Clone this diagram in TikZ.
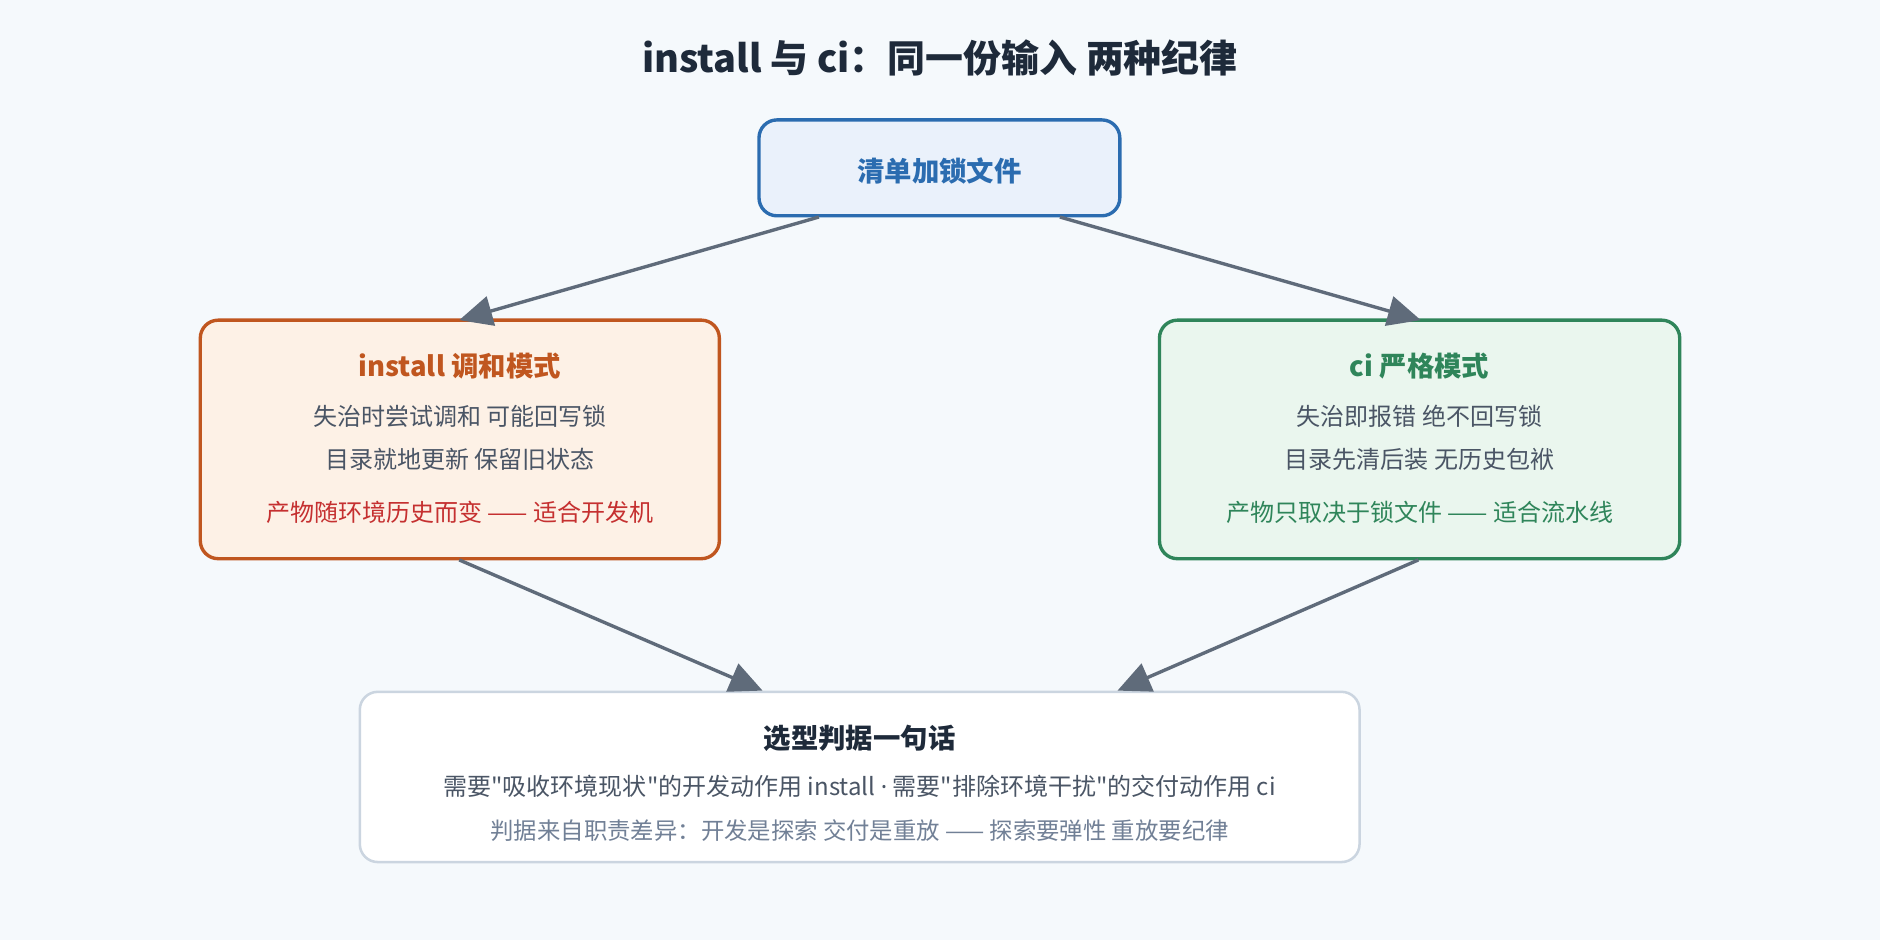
\documentclass[tikz,border=0pt]{standalone}
\usepackage{fontspec}
\setmainfont{Noto Sans CJK SC}[Ligatures=TeXOff]
\newfontfamily\latinfont{Noto Sans}
\usetikzlibrary{arrows.meta}
\definecolor{bgc}{HTML}{F5F9FC}
\definecolor{ink}{HTML}{1E2A3A}
\definecolor{txt}{HTML}{4A5565}
\definecolor{arr}{HTML}{5F6B7A}
\definecolor{blueS}{HTML}{2B6CB0}
\definecolor{blueF}{HTML}{EAF1FB}
\definecolor{orgS}{HTML}{C0561F}
\definecolor{orgF}{HTML}{FDF1E6}
\definecolor{grnS}{HTML}{2F855A}
\definecolor{grnF}{HTML}{EAF6EE}
\definecolor{redT}{HTML}{C53030}
\definecolor{gryS}{HTML}{CBD5E0}
\definecolor{gryT}{HTML}{718096}
\tikzset{
  box/.style={draw, rounded corners=0.3cm, line width=1.6pt, inner sep=0pt},
  flow/.style={draw=arr, line width=1.6pt, -{Triangle[length=0.55cm,width=0.5cm]}},
  head/.style={font=\fontsize{13}{15}\selectfont\bfseries},
  line/.style={font=\fontsize{11.4}{13}\selectfont, text=txt}
}
\begin{document}
\begin{tikzpicture}[x=0.02cm,y=-0.02cm]
  \fill[bgc] (0,0) rectangle (1568,784);
  \node[font=\fontsize{18}{21}\selectfont\bfseries, text=ink] (title) at (784,48) {install 与 ci：同一份输入 两种纪律};

  % boxes
  \node[box, draw=blueS, fill=blueF, minimum width=6.02cm, minimum height=1.6cm] (lock) at (783.5,140) {};
  \node[head, text=blueS] (lockt) at (783.5,143) {清单加锁文件};
  \node[box, draw=orgS, fill=orgF, minimum width=8.66cm, minimum height=3.98cm] (inst) at (383.5,366.5) {};
  \node[box, draw=grnS, fill=grnF, minimum width=8.68cm, minimum height=3.98cm] (ci) at (1184,366.5) {};
  \node[box, draw=gryS, fill=white, line width=1.2pt, minimum width=16.68cm, minimum height=2.84cm] (rule) at (717,648) {};

  % install
  \node[head, text=orgS] (it) at (383.5,305) {install 调和模式};
  \node[line] (i1) at (383.5,347) {失治时尝试调和 可能回写锁};
  \node[line] (i2) at (383.5,383) {目录就地更新 保留旧状态};
  \node[line, text=redT] (i3) at (383.5,427) {产物随环境历史而变 —— 适合开发机};

  % ci
  \node[head, text=grnS] (ct) at (1184,305) {ci 严格模式};
  \node[line] (c1) at (1184,347) {失治即报错 绝不回写锁};
  \node[line] (c2) at (1184,383) {目录先清后装 无历史包袱};
  \node[line, text=grnS] (c3) at (1184,427) {产物只取决于锁文件 —— 适合流水线};

  % rule
  \node[head, text=ink] (rt) at (717,616) {选型判据一句话};
  \node[line] (r1) at (717,656) {需要"吸收环境现状"的开发动作用 install {\latinfont·} 需要"排除环境干扰"的交付动作用 ci};
  \node[line, text=gryT, font=\fontsize{11.1}{13}\selectfont] (r2) at (717,693) {判据来自职责差异：开发是探索 交付是重放 —— 探索要弹性 重放要纪律};

  % connectors
  \coordinate (lockL) at (683,181);
  \coordinate (lockR) at (884,181);
  \coordinate (instT) at (383,267);
  \coordinate (ciT) at (1185,267);
  \coordinate (instB) at (383,467);
  \coordinate (ciB) at (1183,467);
  \coordinate (ruleL) at (636,576);
  \coordinate (ruleR) at (932,576);
  \draw[flow] (lockL) -- (instT);
  \draw[flow] (lockR) -- (ciT);
  \draw[flow] (instB) -- (ruleL);
  \draw[flow] (ciB) -- (ruleR);
\end{tikzpicture}
\end{document}
